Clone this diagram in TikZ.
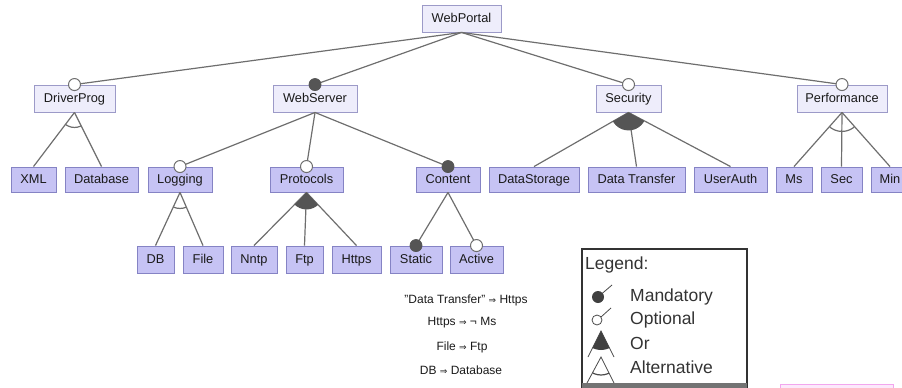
\documentclass[tikz,border=0pt]{standalone}
\usepackage{fontspec}
\setmainfont{Liberation Sans}
\newfontfamily\symfont{DejaVu Sans}
\definecolor{lightfill}{HTML}{EEEDFB}
\definecolor{lightdraw}{HTML}{9C9AC8}
\definecolor{darkfill}{HTML}{C6C3F4}
\definecolor{darkdraw}{HTML}{8583C4}
\definecolor{linegray}{HTML}{6E6E6E}
\definecolor{markgray}{HTML}{555555}
\definecolor{txt}{HTML}{1A1A1A}
\definecolor{pinkbar}{HTML}{F2A6EE}
\begin{document}
\begin{tikzpicture}[x=1pt,y=-1pt,
  feat/.style={draw, line width=0.9pt, minimum height=27pt, inner sep=0pt, text height=9pt, text depth=1pt, font=\fontsize{12.8}{15}\selectfont, text=txt},
  topbox/.style={feat, fill=lightfill, draw=lightdraw},
  leafbox/.style={feat, fill=darkfill, draw=darkdraw, minimum height=25pt},
  lowbox/.style={feat, fill=darkfill, draw=darkdraw},
  conn/.style={draw=linegray, line width=1.2pt},
  mandmark/.style={fill=markgray, draw=markgray, line width=0.8pt},
  optmark/.style={fill=white, draw=linegray, line width=1pt},
  cons/.style={font=\fontsize{12}{14}\selectfont, text=txt, inner sep=0pt},
  legtext/.style={font=\fontsize{17.5}{20}\selectfont, text=black!80, inner sep=0pt, anchor=west}
]
\useasboundingbox (0,0) rectangle (902,388);

% nodes
\node[topbox, minimum width=79pt] (wp) at (461.5,18.5) {WebPortal};
\node[topbox, minimum width=81pt] (dp) at (74.5,98.5) {DriverProg};
\node[topbox, minimum width=84pt] (ws) at (315,98.5) {WebServer};
\node[topbox, minimum width=65pt] (sec) at (628.5,98.5) {Security};
\node[topbox, minimum width=90pt] (perf) at (842,98.5) {Performance};

\node[leafbox, minimum width=45pt] (xml) at (33.5,179.5) {XML};
\node[leafbox, minimum width=73pt] (dbase) at (101.5,179.5) {Database};
\node[leafbox, minimum width=64pt] (log) at (180,179.5) {Logging};
\node[leafbox, minimum width=73pt] (prot) at (306.5,179.5) {Protocols};
\node[leafbox, minimum width=64pt] (cont) at (448,179.5) {Content};
\node[leafbox, minimum width=90pt] (dstor) at (534,179.5) {DataStorage};
\node[leafbox, minimum width=97pt] (dtrans) at (636.5,179.5) {Data Transfer};
\node[leafbox, minimum width=73pt] (uauth) at (730.5,179.5) {UserAuth};
\node[leafbox, minimum width=36pt] (ms) at (794,179.5) {Ms};
\node[leafbox, minimum width=41pt] (secs) at (841.5,179.5) {Sec};
\node[leafbox, minimum width=38pt] (min) at (890,179.5) {Min};

\node[lowbox, minimum width=37pt] (db) at (155.5,259.5) {DB};
\node[lowbox, minimum width=40pt] (file) at (203,259.5) {File};
\node[lowbox, minimum width=46pt] (nntp) at (254,259.5) {Nntp};
\node[lowbox, minimum width=37pt] (ftp) at (304.5,259.5) {Ftp};
\node[lowbox, minimum width=49pt] (https) at (356.5,259.5) {Https};
\node[lowbox, minimum width=52pt] (stat) at (416,259.5) {Static};
\node[lowbox, minimum width=53pt] (act) at (476.5,259.5) {Active};

% connectors
\draw[conn] (wp.south) -- (dp.north);
\draw[conn] (wp.south) -- (ws.north);
\draw[conn] (wp.south) -- (sec.north);
\draw[conn] (wp.south) -- (perf.north);
\draw[conn] (dp.south) -- (xml.north);
\draw[conn] (dp.south) -- (dbase.north);
\draw[conn] (ws.south) -- (log.north);
\draw[conn] (ws.south) -- (prot.north);
\draw[conn] (ws.south) -- (cont.north);
\draw[conn] (sec.south) -- (dstor.north);
\draw[conn] (sec.south) -- (dtrans.north);
\draw[conn] (sec.south) -- (uauth.north);
\draw[conn] (perf.south) -- (ms.north);
\draw[conn] (perf.south) -- (secs.north);
\draw[conn] (perf.south) -- (min.north);
\draw[conn] (log.south) -- (db.north);
\draw[conn] (log.south) -- (file.north);
\draw[conn] (prot.south) -- (nntp.north);
\draw[conn] (prot.south) -- (ftp.north);
\draw[conn] (prot.south) -- (https.north);
\draw[conn] (cont.south) -- (stat.north);
\draw[conn] (cont.south) -- (act.north);

% group marks: alternative (hollow arcs)
\begin{scope}
\clip (dp.south) -- (xml.north) -- (dbase.north) -- cycle;
\draw[conn] (dp.south) circle (15pt);
\end{scope}
\begin{scope}
\clip (log.south) -- (db.north) -- (file.north) -- cycle;
\draw[conn] (log.south) circle (16pt);
\end{scope}
\begin{scope}
\clip (perf.south) -- (ms.north) -- (min.north) -- cycle;
\draw[conn] (perf.south) circle (19pt);
\end{scope}
% or (filled sectors)
\begin{scope}
\clip (prot.south) -- (nntp.north) -- (https.north) -- cycle;
\fill[markgray] (prot.south) circle (17pt);
\end{scope}
\begin{scope}
\clip (sec.south) -- (dstor.north) -- (uauth.north) -- cycle;
\fill[markgray] (sec.south) circle (18pt);
\end{scope}

% optional / mandatory circles
\draw[optmark] (dp.north) circle (6pt);
\draw[mandmark] (ws.north) circle (6pt);
\draw[optmark] (sec.north) circle (6pt);
\draw[optmark] (perf.north) circle (6pt);
\draw[optmark] (log.north) circle (6pt);
\draw[optmark] (prot.north) circle (6pt);
\draw[mandmark] (cont.north) circle (6pt);
\draw[mandmark] (stat.north) circle (6pt);
\draw[optmark] (act.north) circle (6pt);

% constraints
\node[cons] (c1) at (466,300) {"Data Transfer" {\symfont\fontsize{9}{10}\selectfont ⇒} Https};
\node[cons] (c2) at (462,323) {Https {\symfont\fontsize{9}{10}\selectfont ⇒} ¬ Ms};
\node[cons] (c3) at (462,347) {File {\symfont\fontsize{9}{10}\selectfont ⇒} Ftp};
\node[cons] (c4) at (461,370) {DB {\symfont\fontsize{9}{10}\selectfont ⇒} Database};

% legend
\draw[draw=black!80, line width=1.4pt, fill=white] (582,249) rectangle (747,395);
\fill[black!55] (582,383) rectangle (747,392);
\node[legtext] (lg) at (585,265) {Legend:};
\node[legtext] (lm) at (630,297) {Mandatory};
\node[legtext] (lo) at (630,320) {Optional};
\node[legtext] (lor) at (630,343) {Or};
\node[legtext] (la) at (630,367) {Alternative};
% legend icons
\coordinate (mc) at (598,297);
\coordinate (mt) at (612,285);
\draw[black!70, line width=0.8pt] (mc) -- (mt);
\fill[black!75] (mc) circle (6pt);
\coordinate (oc) at (597,320);
\coordinate (ot) at (611,308);
\draw[black!70, line width=0.8pt] (oc) ++(4,-3) -- (ot);
\draw[black!70, line width=0.8pt] (oc) circle (5pt);
\coordinate (ora) at (601,331);
\coordinate (orl) at (588,357);
\coordinate (orr) at (614,357);
\draw[black!70, line width=0.8pt] (orl) -- (ora) -- (orr);
\begin{scope}
\clip (ora) -- (orl) -- (orr) -- cycle;
\fill[black!75] (ora) circle (19pt);
\end{scope}
\coordinate (aa) at (601,357);
\coordinate (al) at (587,383);
\coordinate (ar) at (614,383);
\draw[black!70, line width=0.8pt] (al) -- (aa) -- (ar);
\begin{scope}
\clip (aa) -- (al) -- (ar) -- cycle;
\draw[black!70, line width=1.2pt] (aa) circle (18pt);
\end{scope}

% pink bar at bottom right
\draw[pinkbar, fill=pinkbar!25, line width=1pt] (780,384) rectangle (893,395);
\end{tikzpicture}
\end{document}
